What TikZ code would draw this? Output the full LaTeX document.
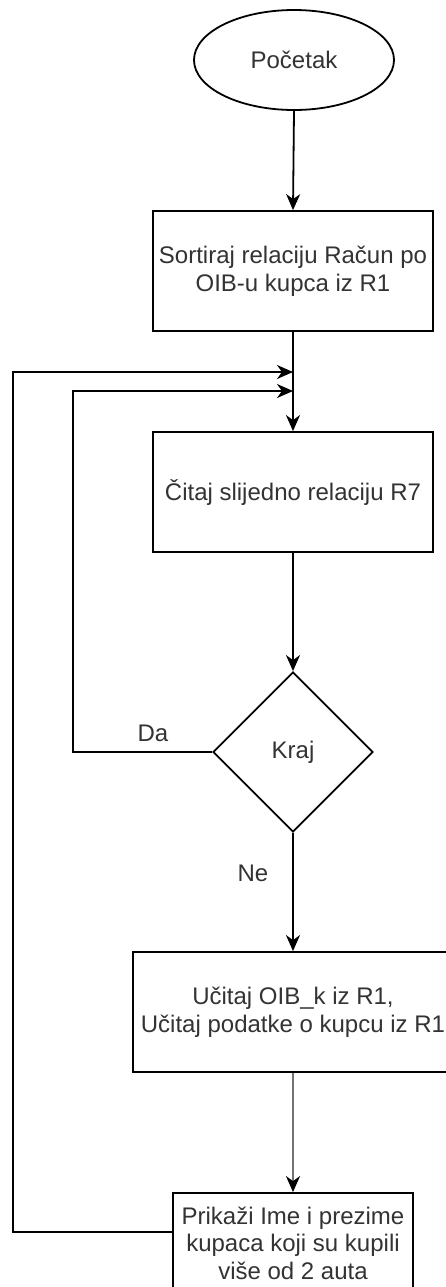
\documentclass[tikz,border=0pt]{standalone}
\usepackage{fontspec}
\setmainfont{Liberation Sans}
\usetikzlibrary{shapes.geometric,arrows.meta}
\begin{document}
\begin{tikzpicture}[x=1bp,y=-1bp,
  every node/.style={font=\fontsize{24bp}{27.5bp}\selectfont, text=black!80},
  box/.style={draw=black, line width=1.8bp, rectangle, inner sep=0pt, align=center},
  tip/.style={-{Stealth[length=16bp,width=14bp,inset=5bp,color=black]}},
  arr/.style={draw=black, line width=1.8bp, tip},
  garr/.style={draw=black!55, line width=2bp, tip},
  lbl/.style={inner sep=0pt}]
\useasboundingbox[fill=white] (0,0) rectangle (446,1287);

\node[ellipse, draw=black, line width=1.8bp, minimum width=200bp, minimum height=100bp, inner sep=0pt] (start) at (294,60) {Početak};
\node[box, minimum width=280bp, minimum height=120bp] (b1) at (293,271) {Sortiraj relaciju Račun po\\OIB-u kupca iz R1};
\node[box, minimum width=280bp, minimum height=120bp] (b2) at (293,492) {Čitaj slijedno relaciju R7};
\node[diamond, draw=black, line width=1.8bp, aspect=1, minimum width=160bp, minimum height=160bp, inner sep=0pt] (d) at (293,752) {Kraj};
\node[box, minimum width=320bp, minimum height=120bp] (b3) at (293,1012) {Učitaj OIB\_k iz R1,\\Učitaj podatke o kupcu iz R1};
\node[box, minimum width=240bp, minimum height=100bp] (b4) at (293,1243) {Prikaži Ime i prezime\\kupaca koji su kupili\\više od 2 auta};

\node[lbl] (da) at (153,733) {Da};
\node[lbl] (ne) at (253,873) {Ne};

\coordinate (j1) at (293,372);
\coordinate (j2) at (293,391);
\coordinate (oc) at (13,372);
\coordinate (ic) at (73,391);
\coordinate (ox) at (173,1232);

\draw[arr] (start.south) -- (b1.north);
\draw[arr] (b1.south) -- (b2.north);
\draw[arr] (b2.south) -- (d.north);
\draw[arr] (d.south) -- (b3.north);
\draw[garr] (b3.south) -- (b4.north);
\draw[arr] (d.west) -| (ic) -- (j2);
\draw[arr] (ox) -| (oc) -- (j1);
\end{tikzpicture}
\end{document}
